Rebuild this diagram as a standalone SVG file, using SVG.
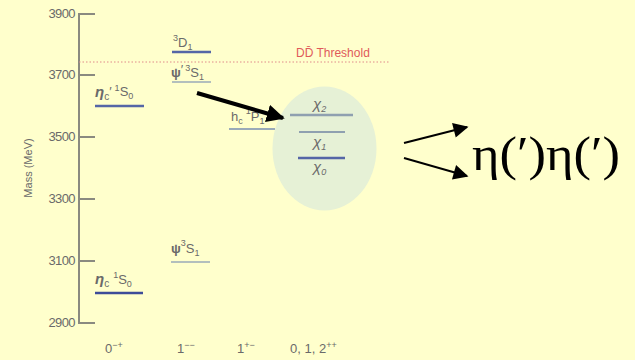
<svg xmlns="http://www.w3.org/2000/svg" width="635" height="360" viewBox="0 0 635 360">
<style>
.lbl{font-family:"Liberation Sans",Arial,sans-serif;fill:#6a6a6a;font-size:13px}
.tick{font-family:"Liberation Sans",Arial,sans-serif;fill:#6a6a6a;font-size:13px;text-anchor:end;letter-spacing:-0.6px}
.ax{stroke:#8a8a80;stroke-width:2;fill:none}
.lvl{stroke-width:2.5;fill:none}
.blue{stroke:#5566a6}
.dblue{stroke:#3d4c98}
.gray{stroke:#9aaab8}
.conn{stroke:#000;fill:none}
</style>
<defs>
<marker id="bigHead" viewBox="0 0 10 10" refX="9" refY="5" markerWidth="4.5" markerHeight="4.5" orient="auto" markerUnits="strokeWidth">
<path d="M0,0 L10,5 L0,10 z" fill="#000"/>
</marker>
<marker id="smallHead" viewBox="0 0 10 10" refX="9" refY="5" markerWidth="9" markerHeight="7.5" orient="auto" markerUnits="strokeWidth">
<path d="M0,0 L10,5 L0,10 z" fill="#000"/>
</marker>
</defs>
<rect width="635" height="360" fill="#FFFFCC"/>

<g id="axis">
<path class="ax" d="M79,13 V324 M79,14 H95 M79,75 H95 M79,137 H95 M79,199 H95 M79,261 H95 M79,323 H95"/>
<text class="tick" x="75" y="18">3900</text>
<text class="tick" x="75" y="79">3700</text>
<text class="tick" x="75" y="141">3500</text>
<text class="tick" x="75" y="203">3300</text>
<text class="tick" x="75" y="265">3100</text>
<text class="tick" x="75" y="327">2900</text>
<text class="lbl" transform="translate(32,168) rotate(-90)" text-anchor="middle" style="font-size:11px">Mass (MeV)</text>
</g>

<g id="threshold">
<line x1="79" y1="62" x2="390" y2="62" stroke="#e08a8a" stroke-width="1" stroke-dasharray="1.5,2"/>
<text x="296" y="57" style="font-family:'Liberation Sans',Arial,sans-serif;font-size:12px;fill:#e05a5a">DD̄ Threshold</text>
</g>

<g id="chi-ellipse">
<ellipse cx="324.5" cy="148.5" rx="52" ry="62" fill="#E6F1D6"/>
</g>

<g id="etac-prime">
<line class="lvl blue" x1="95" y1="106" x2="144" y2="106"/>
<text class="lbl" x="95" y="97"><tspan font-style="italic" font-weight="bold" style="font-size:15px">η</tspan><tspan dy="3" style="font-size:10px">c</tspan><tspan dy="-4">′</tspan><tspan dx="3" dy="-5" style="font-size:9px">1</tspan><tspan dy="5">S</tspan><tspan dy="3" style="font-size:9px">0</tspan></text>
</g>

<g id="etac">
<line class="lvl dblue" x1="95" y1="293" x2="143" y2="293"/>
<text class="lbl" x="95" y="284"><tspan font-style="italic" font-weight="bold" style="font-size:15px">η</tspan><tspan dy="3" style="font-size:10px">c</tspan><tspan dx="4" dy="-9" style="font-size:9px">1</tspan><tspan dy="6">S</tspan><tspan dy="3" style="font-size:9px">0</tspan></text>
</g>

<g id="D1">
<line class="lvl blue" x1="172" y1="52" x2="211" y2="52"/>
<text class="lbl" x="173" y="47"><tspan dy="-6" style="font-size:9px">3</tspan><tspan dy="6">D</tspan><tspan dy="3" style="font-size:9px">1</tspan></text>
</g>

<g id="psi-prime">
<line class="lvl gray" x1="172" y1="82" x2="211" y2="82" style="stroke-width:1.5"/>
<text class="lbl" x="171" y="77"><tspan font-weight="bold" style="font-size:13px">ψ</tspan><tspan dy="-3">′</tspan><tspan dx="2" dy="-3" style="font-size:9px">3</tspan><tspan dy="6">S</tspan><tspan dy="3" style="font-size:9px">1</tspan></text>
</g>

<g id="psi">
<line class="lvl gray" x1="171" y1="262" x2="210" y2="262" style="stroke-width:1.5"/>
<text class="lbl" x="171" y="253"><tspan font-weight="bold" style="font-size:13px">ψ</tspan><tspan dy="-7" style="font-size:9px">3</tspan><tspan dy="7">S</tspan><tspan dy="3" style="font-size:9px">1</tspan></text>
</g>

<g id="hc">
<line class="lvl gray" x1="229" y1="129" x2="275" y2="129" style="stroke-width:2"/>
<text class="lbl" x="231" y="121">h<tspan dy="3" style="font-size:9px">c</tspan><tspan dx="3" dy="-10" style="font-size:9px">1</tspan><tspan dy="7">P</tspan><tspan dy="3" style="font-size:9px">1</tspan></text>
</g>

<g id="chi2">
<line class="lvl gray" x1="290" y1="115" x2="353" y2="115" style="stroke:#8fa0b0"/>
<text class="lbl" x="313" y="109" font-style="italic"><tspan style="font-size:15px">χ</tspan><tspan dy="3" style="font-size:9px">2</tspan></text>
</g>

<g id="chi1">
<line class="lvl gray" x1="299" y1="132" x2="345" y2="132" style="stroke:#8fa0b0;stroke-width:2"/>
<text class="lbl" x="313" y="147" font-style="italic"><tspan style="font-size:15px">χ</tspan><tspan dy="3" style="font-size:9px">1</tspan></text>
</g>

<g id="chi0">
<line class="lvl blue" x1="298" y1="158" x2="345" y2="158"/>
<text class="lbl" x="313" y="172" font-style="italic"><tspan style="font-size:15px">χ</tspan><tspan dy="3" style="font-size:9px">0</tspan></text>
</g>

<g id="xlabels">
<text class="lbl" x="105" y="353">0<tspan dy="-5" style="font-size:9px">−+</tspan></text>
<text class="lbl" x="177" y="353">1<tspan dy="-5" style="font-size:9px">−−</tspan></text>
<text class="lbl" x="237" y="353">1<tspan dy="-5" style="font-size:9px">+−</tspan></text>
<text class="lbl" x="290" y="353">0, 1, 2<tspan dy="-5" style="font-size:9px">++</tspan></text>
</g>

<g id="products">
<text x="472" y="170" textLength="148" lengthAdjust="spacingAndGlyphs" style="font-family:'Liberation Serif','Times New Roman',serif;font-size:49px;fill:#000">η(′)η(′)</text>
</g>

<g id="connectors">
<line class="conn" x1="197" y1="93" x2="283" y2="118" stroke-width="4" marker-end="url(#bigHead)"/>
<line class="conn" x1="404" y1="143" x2="467" y2="127" stroke-width="2" marker-end="url(#smallHead)"/>
<line class="conn" x1="404" y1="158" x2="467" y2="176" stroke-width="2" marker-end="url(#smallHead)"/>
</g>
</svg>
